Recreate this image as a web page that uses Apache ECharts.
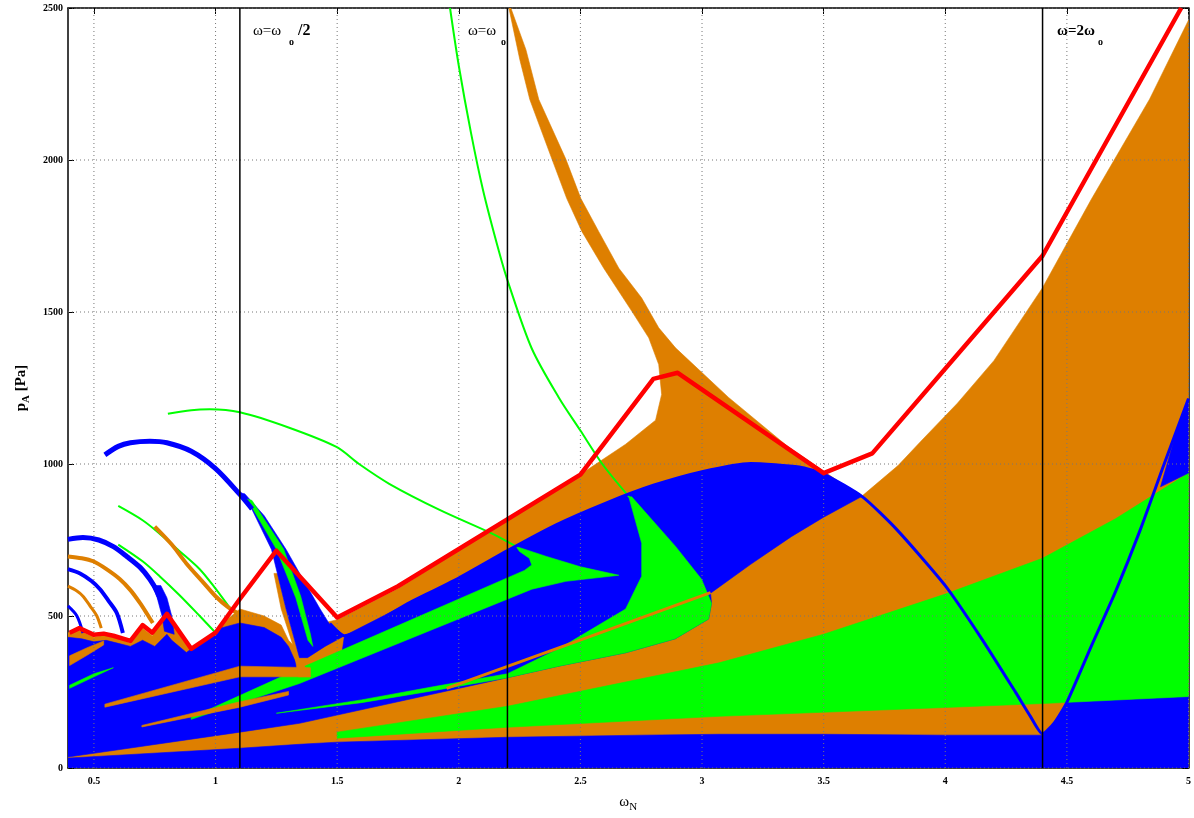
<!DOCTYPE html>
<html><head><meta charset="utf-8">
<script src="https://cdn.jsdelivr.net/npm/echarts@6/dist/echarts.min.js"></script>
<style>html,body{margin:0;padding:0;background:#fff}#c{width:1194px;height:818px}</style>
</head><body><div id="c"></div>
<script>
const X_TICKS=[0.5,1,1.5,2,2.5,3,3.5,4,4.5,5];
const Y_TICKS=[0,500,1000,1500,2000,2500];
const X_RANGE=[0.3934,5];
const Y_RANGE=[0,2500];
const MARKER_X=[1.1,2.2,4.4];

// filled regions (omega_N, p_A)
const orangeMain=[[0.393,0],[5,0],[5,2460],[4.84,2200],[4.6,1870],[4.4,1580],[4.2,1340],[4.05,1200],[3.9,1075],[3.806,995],[3.654,892],
 [3.355,1056],[3.109,1219],[2.891,1382],[2.822,1448],[2.752,1546],[2.658,1644],[2.575,1765],[2.502,1873],[2.44,2003],[2.329,2199],[2.276,2363],[2.214,2500],
 [2.206,2500],[2.251,2330],[2.292,2199],[2.383,2003],[2.444,1873],[2.506,1765],[2.596,1644],[2.711,1503],[2.781,1415],[2.822,1327],[2.834,1229],[2.809,1144],[2.686,1065],[2.493,962],
 [1.755,592],[1.5,488],[1.45,478],[1.4,440],[1.35,380],[1.3,420],[1.27,470],[1.2,500],[1.1,523],[1.05,490],[1.0,445],[0.95,400],[0.9,385],[0.85,440],[0.8,500],[0.77,470],[0.74,435],[0.7,460],[0.65,410],[0.6,428],[0.55,438],[0.5,430],[0.44,452],[0.393,445]];
const blueMain=[[0.393,36],[1.1,118],[1.345,147],[2.2,297],[2.411,335],[2.686,379],[2.89,425],[3.027,490],[3.039,542],[3.035,575],[3.2,670],[3.367,761],[3.5,825],[3.654,892],
 [3.5,967],[3.4,990],[3.2,1002],[3.0,975],[2.8,930],[2.6,870],[2.4,800],[2.2,715],[2.0,625],[1.8,545],[1.53,435],
 [1.52,380],[1.48,340],[1.4,315],[1.345,320],[1.3,400],[1.27,430],[1.2,462],[1.1,477],[1.02,460],[0.95,420],[0.88,380],[0.82,420],[0.8,440],[0.75,400],[0.7,420],[0.65,400],[0.6,410],[0.55,420],[0.5,415],[0.45,425],[0.393,430]];
const blueBottom=[[0.393,0],[5,0],[5,235],[4.5,216],[4.45,150],[4.4,108],[4.0,108],[3.5,111],[3.07,111],[2.75,108],[2.2,101],[1.5,85],[1.345,78],[1.1,65],[0.6,42],[0.4,33],[0.393,33]];
const greenBand=[[1.5,98],[2.2,134],[3.07,170],[4.0,199],[4.4,212],[5,235],[5,970],[4.7,820],[4.4,690],[4.0,572],[3.5,440],[3.07,346],[2.2,203],[1.5,118]];
const blueRightWedge=[[4.885,925],[4.95,1105],[5,1215],[5,970]];
const greenCrescent=[[2.699,892],[2.711,892],[2.891,729],[2.998,621],[3.039,542],[3.027,490],[2.89,425],[2.686,379],[2.411,335],[2.2,297],[1.9,255],[1.6,215],[1.25,180],[1.6,224],[1.9,268],[2.2,310],[2.411,392],[2.686,523],[2.752,631],[2.752,739]];
const greenSword=[[0.9,160],[1.345,278],[2.30,588],[2.44,614],[2.658,634],[2.5,662],[2.36,696],[2.235,729],[2.25,712],[2.29,690],[2.3,668],[2.27,650],[1.345,327],[0.9,166]];
const orangeWedgeL1=[[0.545,200],[1.1,300],[1.39,300],[1.39,330],[1.1,335],[0.545,210]];
const orangeWedgeL2=[[0.697,135],[1.1,200],[1.3,240],[1.3,252],[1.1,218],[0.697,140]];
const orangeWedgeL3=[[0.40,337],[0.47,370],[0.54,405],[0.54,418],[0.47,395],[0.40,369]];
const greenWedgeL1=[[0.40,262],[0.5,300],[0.58,330],[0.5,310],[0.40,272]];
const tongueA=[[1.10,905],[1.15,850],[1.23,719],[1.29,523],[1.345,363],[1.378,363],[1.45,400],[1.53,435],[1.468,474],[1.43,523],[1.36,620],[1.29,719],[1.2,830],[1.12,902]];
const tongueAGreen=[[1.13,885],[1.25,720],[1.33,560],[1.38,420],[1.40,400],[1.39,440],[1.35,565],[1.28,720],[1.15,880]];
const tongueAOrange=[[1.24,640],[1.27,523],[1.32,400],[1.34,300],[1.39,300],[1.345,363],[1.29,523],[1.255,640]];
const tongueB=[[0.74,600],[0.76,560],[0.78,500],[0.79,450],[0.83,440],[0.82,500],[0.80,560],[0.775,600]];

// curves
const redLine=[[0.40,445],[0.44,460],[0.50,438],[0.54,442],[0.58,435],[0.65,418],[0.70,470],[0.74,445],[0.80,507],[0.90,392],[1.0,445],[1.1,556],[1.25,715],[1.5,495],[1.75,598],[2.5,965],[2.8,1280],[2.9,1300],[3.5,970],[3.7,1035],[4.4,1685],[4.97,2500]];
const blueCurve=[[1.47,475],[1.53,435],[1.8,545],[2.0,625],[2.2,715],[2.4,800],[2.6,870],[2.8,930],[3.0,975],[3.2,1002],[3.4,990],[3.5,967],[3.66,892],[3.8,785],[4.0,600],[4.15,425],[4.29,248],[4.35,170],[4.4,112],[4.45,150],[4.5,216],[4.6,400],[4.7,580],[4.8,780],[4.9,1000],[5.0,1215]];
const greenTop=[[0.804,1165],[0.9,1177],[0.976,1180],[1.1,1170],[1.3,1120],[1.497,1056],[1.59,1000],[1.714,935],[1.919,850],[2.137,771],[2.235,729]];
const greenSteep=[[1.964,2500],[2.0,2310],[2.05,2090],[2.1,1900],[2.165,1700],[2.206,1590],[2.3,1380],[2.411,1219],[2.5,1110],[2.59,1000],[2.7,892]];
const blueArcA=[[0.545,1030],[0.6,1058],[0.65,1070],[0.73,1075],[0.8,1070],[0.9,1042],[1.0,985],[1.1,900],[1.15,852]];
const greenArc2=[[0.6,862],[0.7,815],[0.77,771],[0.85,715],[0.935,654],[1.0,590],[1.06,525]];
const greenArc3=[[0.6,735],[0.7,680],[0.77,631],[0.85,570],[0.935,500],[1.0,445]];
const orangeArc1=[[0.75,794],[0.82,735],[0.88,673],[0.95,610],[1.0,565],[1.05,530],[1.1,505]];
const blueArcB=[[0.393,752],[0.455,758],[0.52,750],[0.58,728],[0.635,696],[0.69,660],[0.73,621],[0.76,580],[0.783,533],[0.81,457]];
const orangeArcB=[[0.393,696],[0.45,690],[0.497,680],[0.55,655],[0.607,621],[0.65,585],[0.689,543],[0.72,505],[0.742,477]];
const blueArcC=[[0.393,654],[0.443,640],[0.49,615],[0.525,588],[0.56,550],[0.594,510],[0.619,444]];
const orangeArcC=[[0.393,598],[0.43,582],[0.455,565],[0.485,532],[0.512,500],[0.53,460]];
const blueArcD=[[0.393,533],[0.43,500],[0.455,444]];
const orangeThin=[[1.95,262],[2.411,395],[3.035,577]];

const BLUE='#0000ff',ORANGE='#de7f00',GREEN='#00ff00',RED='#ff0000';

function poly(points,color){
  return {type:'custom',silent:true,clip:true,animation:false,data:[[points[0][0],points[0][1]]],
    renderItem:(p,api)=>({type:'polygon',shape:{points:points.map(q=>api.coord(q))},style:{fill:color,stroke:color,lineWidth:0.6}})};
}
function line(points,color,width,extra){
  return Object.assign({type:'line',data:points,showSymbol:false,symbol:'none',silent:true,animation:false,clip:true,
    lineStyle:{color:color,width:width,join:'round'}},extra||{});
}
const gridStyle={color:'#777',width:1,type:[1,3]};
const series=[];
X_TICKS.forEach(x=>series.push(line([[x,Y_RANGE[0]],[x,Y_RANGE[1]]],'#777',1,{lineStyle:gridStyle})));
Y_TICKS.forEach(y=>series.push(line([[X_RANGE[0],y],[X_RANGE[1],y]],'#777',1,{lineStyle:gridStyle})));
series.push(poly(orangeMain,ORANGE));
series.push(poly(blueMain,BLUE));
series.push(poly(blueBottom,BLUE));
series.push(poly(greenBand,GREEN));
series.push(poly(blueRightWedge,BLUE));
series.push(poly(greenCrescent,GREEN));
series.push(poly(greenSword,GREEN));
series.push(poly(orangeWedgeL1,ORANGE));
series.push(poly(orangeWedgeL2,ORANGE));
series.push(poly(orangeWedgeL3,ORANGE));
series.push(poly(greenWedgeL1,GREEN));
series.push(poly(tongueAOrange,ORANGE));
series.push(poly(tongueA,BLUE));
series.push(poly(tongueAGreen,GREEN));
series.push(poly(tongueB,BLUE));
series.push(line(orangeThin,ORANGE,3));
series.push(line(greenTop,GREEN,2,{smooth:0.3}));
series.push(line(greenSteep,GREEN,2,{smooth:0.3}));
series.push(line(greenArc2,GREEN,2,{smooth:0.3}));
series.push(line(greenArc3,GREEN,2,{smooth:0.3}));
series.push(line(orangeArc1,ORANGE,4,{smooth:0.3}));
series.push(line(orangeArcB,ORANGE,4,{smooth:0.3}));
series.push(line(orangeArcC,ORANGE,3,{smooth:0.3}));
series.push(line(blueArcA,BLUE,5,{smooth:0.3}));
series.push(line(blueArcB,BLUE,5,{smooth:0.3}));
series.push(line(blueArcC,BLUE,4,{smooth:0.3}));
series.push(line(blueArcD,BLUE,3,{smooth:0.3}));
series.push(line(blueCurve,BLUE,3,{smooth:0.2}));
series.push(line(redLine,RED,4.5));
MARKER_X.forEach(x=>series.push(line([[x,Y_RANGE[0]],[x,Y_RANGE[1]]],'#000',1.5)));

const tickFont={fontFamily:'Liberation Serif',fontWeight:'bold',fontSize:10,color:'#000'};
const chart=echarts.init(document.getElementById('c'),null,{renderer:'canvas'});
chart.setOption({
  backgroundColor:'#fff',animation:false,
  grid:{left:68,right:2,top:8,bottom:45},
  xAxis:[{type:'value',min:X_RANGE[0],max:X_RANGE[1],position:'bottom',
    axisLine:{show:true,onZero:false,lineStyle:{color:'#000',width:1.5}},
    axisTick:{show:true,inside:true,length:6,customValues:X_TICKS,lineStyle:{color:'#000'}},
    axisLabel:Object.assign({customValues:X_TICKS,margin:8,formatter:v=>String(v)},tickFont),splitLine:{show:false},
    name:'{w|ω}{s|N}',nameLocation:'middle',nameGap:24,
    nameTextStyle:{rich:{w:{fontFamily:'Liberation Serif',fontSize:15,color:'#000'},s:{fontFamily:'Liberation Serif',fontSize:11,color:'#000',padding:[10,0,0,0]}}}},
   {type:'value',min:X_RANGE[0],max:X_RANGE[1],position:'top',
    axisLine:{show:true,onZero:false,lineStyle:{color:'#000',width:1.5}},
    axisTick:{show:true,inside:true,length:6,customValues:X_TICKS,lineStyle:{color:'#000'}},
    axisLabel:{show:false},splitLine:{show:false}}],
  yAxis:[{type:'value',min:Y_RANGE[0],max:Y_RANGE[1],interval:500,position:'left',
    axisLine:{show:true,onZero:false,lineStyle:{color:'#000',width:1.5}},
    axisTick:{show:true,inside:true,length:6,lineStyle:{color:'#000'}},
    axisLabel:Object.assign({margin:5,formatter:v=>String(v)},tickFont),splitLine:{show:false},
    name:'{p|p}{s|A}{p| [Pa]}',nameLocation:'middle',nameGap:36,nameRotate:90,
    nameTextStyle:{rich:{p:{fontFamily:'Liberation Serif',fontWeight:'bold',fontSize:15,color:'#000'},s:{fontFamily:'Liberation Serif',fontWeight:'bold',fontSize:11,color:'#000',padding:[10,0,0,0]}}}},
   {type:'value',min:Y_RANGE[0],max:Y_RANGE[1],interval:500,position:'right',
    axisLine:{show:true,onZero:false,lineStyle:{color:'#000',width:1.5}},
    axisTick:{show:true,inside:true,length:6,lineStyle:{color:'#000'}},
    axisLabel:{show:false},splitLine:{show:false}}],
  series:series,
  graphic:[
    {type:'text',left:253,top:24,style:{text:'ω=ω',font:'15px "Liberation Serif"',fill:'#000'}},
    {type:'text',left:289,top:37,style:{text:'o',font:'bold 10px "Liberation Serif"',fill:'#000'}},
    {type:'text',left:298,top:23,style:{text:'/2',font:'bold 16px "Liberation Serif"',fill:'#000'}},
    {type:'text',left:468,top:24,style:{text:'ω=ω',font:'15px "Liberation Serif"',fill:'#000'}},
    {type:'text',left:501,top:37,style:{text:'o',font:'bold 10px "Liberation Serif"',fill:'#000'}},
    {type:'text',left:1057,top:24,style:{text:'ω=2ω',font:'bold 15px "Liberation Serif"',fill:'#000'}},
    {type:'text',left:1098,top:37,style:{text:'o',font:'bold 10px "Liberation Serif"',fill:'#000'}}
  ]
});
</script></body></html>
